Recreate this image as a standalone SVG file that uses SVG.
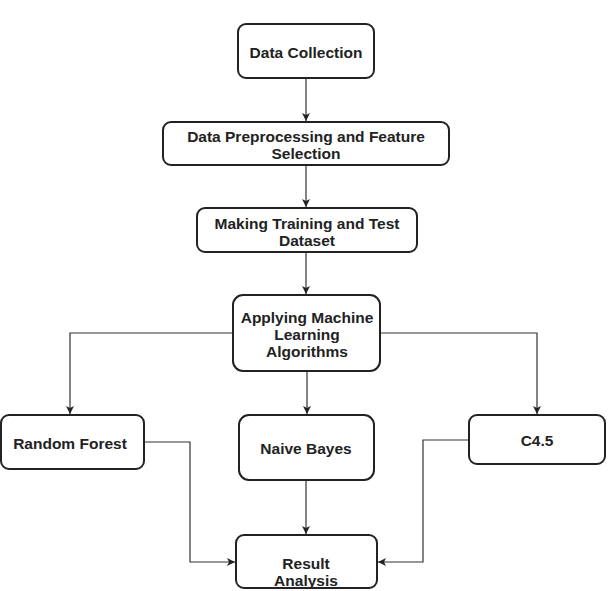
<svg xmlns="http://www.w3.org/2000/svg" width="609" height="591" viewBox="0 0 609 591">
<style>
.box{fill:#fff;stroke:#222;stroke-width:2}
.t{font-family:"Liberation Sans",Arial,sans-serif;font-weight:bold;font-size:15.5px;fill:#222;text-anchor:middle}
.c{fill:none;stroke:#333;stroke-width:1.2}
</style>
<defs>
<marker id="ah" markerWidth="10" markerHeight="10" refX="8" refY="4" orient="auto" markerUnits="userSpaceOnUse">
<path d="M0,0 L8,4 L0,8 L2,4 Z" fill="#222"/>
</marker>
</defs>
<rect width="609" height="591" fill="#fff"/>
<g id="connectors">
<path class="c" d="M306,78 V121" marker-end="url(#ah)"/>
<path class="c" d="M306,165 V207" marker-end="url(#ah)"/>
<path class="c" d="M306,252 V294" marker-end="url(#ah)"/>
<path class="c" d="M233,333 H70 V414" marker-end="url(#ah)"/>
<path class="c" d="M307,371 V414" marker-end="url(#ah)"/>
<path class="c" d="M380,333 H537 V414" marker-end="url(#ah)"/>
<path class="c" d="M144,442 H190 V562 H235" marker-end="url(#ah)"/>
<path class="c" d="M306,480 V534" marker-end="url(#ah)"/>
<path class="c" d="M469,440 H423 V562 H378" marker-end="url(#ah)"/>
</g>
<g id="data-collection">
<rect class="box" x="238" y="24" width="136" height="54" rx="8"/>
<text class="t" x="306" y="57.5">Data Collection</text>
</g>
<g id="preprocessing">
<rect class="box" x="163" y="122" width="286" height="43" rx="8"/>
<text class="t" x="306" y="141.5">Data Preprocessing and Feature</text>
<text class="t" x="306" y="158.5">Selection</text>
</g>
<g id="training">
<rect class="box" x="197" y="208" width="220" height="44" rx="8"/>
<text class="t" x="307" y="228.5">Making Training and Test</text>
<text class="t" x="307" y="245.5">Dataset</text>
</g>
<g id="applying">
<rect class="box" x="233" y="295" width="147" height="76" rx="10"/>
<text class="t" x="307" y="322.5">Applying Machine</text>
<text class="t" x="307" y="339.5">Learning</text>
<text class="t" x="307" y="357">Algorithms</text>
</g>
<g id="random-forest">
<rect class="box" x="1" y="415" width="143" height="54" rx="8"/>
<text class="t" x="70" y="448.5">Random Forest</text>
</g>
<g id="naive-bayes">
<rect class="box" x="239" y="415" width="135" height="65" rx="10"/>
<text class="t" x="306" y="453.5">Naive Bayes</text>
</g>
<g id="c45">
<rect class="box" x="469" y="415" width="136" height="49" rx="8"/>
<text class="t" x="537" y="445.5">C4.5</text>
</g>
<g id="result">
<rect class="box" x="236" y="535" width="141" height="53" rx="8"/>
<text class="t" x="306" y="568.5">Result</text>
<text class="t" x="306" y="585.5">Analysis</text>
</g>
</svg>
